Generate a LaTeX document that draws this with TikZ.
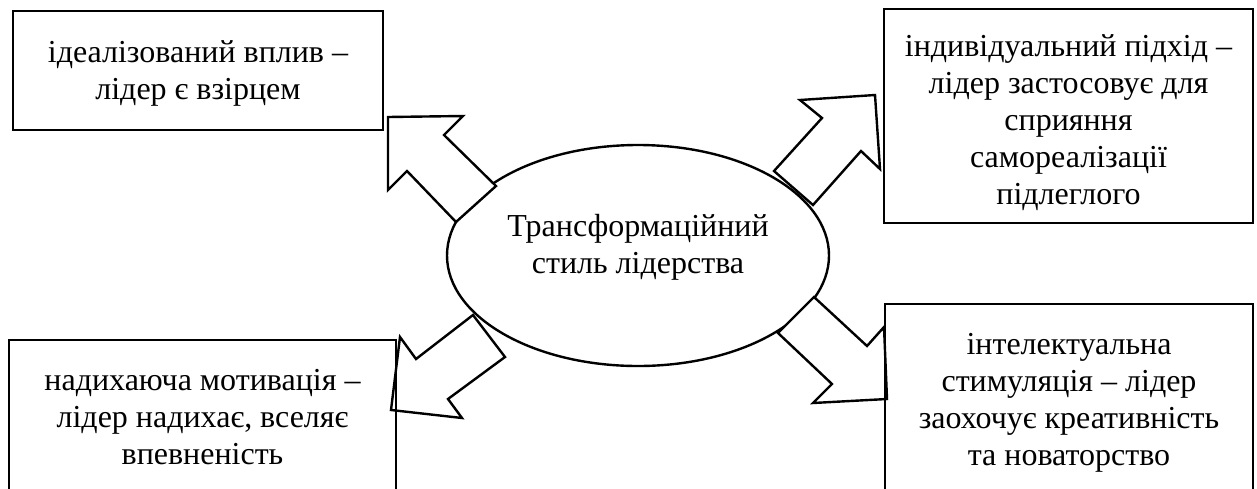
\documentclass[tikz,border=0pt]{standalone}
\usepackage{fontspec}
\setmainfont{Liberation Serif}
\usetikzlibrary{shapes.geometric}
\tikzset{
  txt/.style={font=\fontsize{16pt}{18.5pt}\selectfont, align=center},
  box/.style={draw, rectangle, line width=1.2pt, inner sep=0pt, txt},
  hub/.style={draw, ellipse, line width=1.2pt, inner sep=0pt},
  blockarrow/.style={draw, fill=white, line width=1.2pt, line join=miter},
}
\begin{document}
\begin{tikzpicture}[x=0.5pt, y=-0.5pt]
  \path[use as bounding box, clip] (0,0) rectangle (1257,488);

  % central ellipse
  \node[hub, minimum width=191pt, minimum height=110.5pt] (hub) at (638,255.5) {};
  \node[txt] (hubtext) at (638,247.5) {Трансформаційний\\стиль лідерства};

  % block arrows pointing out of the ellipse
  \draw[blockarrow] (388,117) -- (463,116) -- (444,135) -- (496,186)
        -- (456,222) -- (407,171) -- (388,190) -- cycle;
  \draw[blockarrow] (800,100) -- (875,95) -- (880,169) -- (861,151)
        -- (813,205) -- (774,171) -- (822,118) -- cycle;
  \draw[blockarrow] (473,315) -- (505,357) -- (448,399) -- (462,418)
        -- (391,410) -- (400,337) -- (416,359) -- cycle;
  \draw[blockarrow] (814,297) -- (867,346) -- (884,327) -- (887,399)
        -- (813,403) -- (832,384) -- (778,333) -- cycle;

  % the four components (the struts lower the first lines a little)
  \node[box, minimum width=185pt, minimum height=59.5pt] (idealized) at (198,70.5)
    {\rule{0pt}{14pt}ідеалізований вплив –\\лідер є взірцем};
  \node[box, minimum width=184.5pt, minimum height=107pt] (individual) at (1068.5,116)
    {\rule{0pt}{18pt}індивідуальний підхід –\\лідер застосовує для\\сприяння\\самореалізації\\підлеглого};
  \node[box, minimum width=193.5pt, minimum height=77.5pt] (inspiring) at (202.5,417.5)
    {надихаюча мотивація –\\лідер надихає, вселяє\\впевненість};
  \node[box, minimum width=184pt, minimum height=96.5pt] (intellectual) at (1069,400.5)
    {\rule{0pt}{13pt}інтелектуальна\\стимуляція – лідер\\заохочує креативність\\та новаторство};
\end{tikzpicture}
\end{document}
